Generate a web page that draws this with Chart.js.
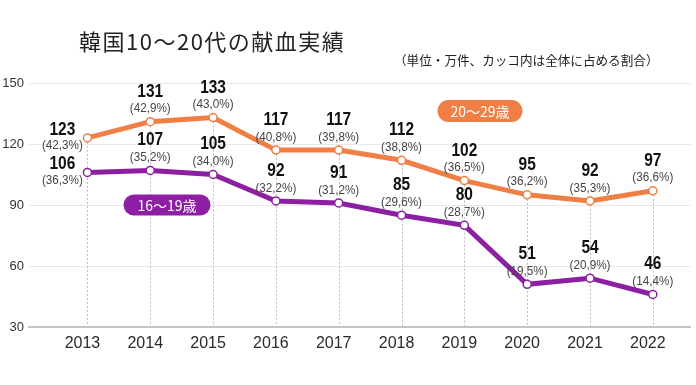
<!DOCTYPE html>
<html>
<head>
<meta charset="utf-8">
<script src="https://cdn.jsdelivr.net/npm/chart.js@4/dist/chart.umd.min.js"></script>
<style>
html,body{margin:0;padding:0;background:#fff;}
#wrap{position:relative;width:696px;height:385px;}
</style>
</head>
<body>
<div id="wrap"><canvas id="c" width="696" height="385"></canvas></div>
<script>
const chartTitle = '韓国10～20代の献血実績';
const chartNote = '（単位・万件、カッコ内は全体に占める割合）';
const years = [2013, 2014, 2015, 2016, 2017, 2018, 2019, 2020, 2021, 2022];
const seriesNames = ['20～29歳', '16～19歳'];
const age20to29 = [123, 131, 133, 117, 117, 112, 102, 95, 92, 97];
const age20to29Share = [42.3, 42.9, 43.0, 40.8, 39.8, 38.8, 36.5, 36.2, 35.3, 36.6];
const age16to19 = [106, 107, 105, 92, 91, 85, 80, 51, 54, 46];
const age16to19Share = [36.3, 35.2, 34.0, 32.2, 31.2, 29.6, 28.7, 19.5, 20.9, 14.4];
const yTicks = [30, 60, 90, 120, 150];

const ORANGE = '#F07F45';
const PURPLE = '#8C1FA2';
const NUM_FONT = '"Liberation Sans", Arial, sans-serif';
const JP_FONT = '"Noto Sans CJK JP", "Noto Sans", sans-serif';

function fmtShare(v){ return '(' + v.toFixed(1).replace('.', ',') + '%)'; }

function squeezedText(ctx, text, x, y, sx){
  ctx.save();
  ctx.translate(x, y);
  ctx.scale(sx, 1);
  ctx.fillText(text, 0, 0);
  ctx.restore();
}

const decorPlugin = {
  id: 'decor',
  beforeDatasetsDraw(chart){
    const ctx = chart.ctx;
    const ys = chart.scales.y;
    const meta = chart.getDatasetMeta(0);
    ctx.save();
    ctx.strokeStyle = '#bdbdbd';
    ctx.lineWidth = 1;
    ctx.setLineDash([2, 2]);
    meta.data.forEach(p => {
      const x = Math.round(p.x) + 0.5;
      ctx.beginPath();
      ctx.moveTo(x, p.y);
      ctx.lineTo(x, ys.bottom);
      ctx.stroke();
    });
    ctx.restore();
  },
  afterDatasetsDraw(chart){
    const ctx = chart.ctx;
    ctx.save();
    const values = [age20to29, age16to19];
    const shares = [age20to29Share, age16to19Share];
    values.forEach((vals, di) => {
      const meta = chart.getDatasetMeta(di);
      meta.data.forEach((p, i) => {
        let cx = p.x, vy = p.y - 30, py = p.y - 13;
        if (i === 0) { cx = p.x - 25; vy = p.y - 8; py = p.y + 8; }
        ctx.textAlign = 'center';
        ctx.textBaseline = 'middle';
        ctx.fillStyle = '#111';
        ctx.font = 'bold 18px ' + NUM_FONT;
        squeezedText(ctx, String(vals[i]), cx, vy, 0.86);
        ctx.fillStyle = '#444';
        ctx.font = '13px ' + NUM_FONT;
        squeezedText(ctx, fmtShare(shares[di][i]), cx, py, 0.9);
      });
    });
    // series pills
    const pills = [
      {text: seriesNames[0], color: ORANGE, x: 480, y: 111, w: 85, h: 22},
      {text: seriesNames[1], color: PURPLE, x: 167, y: 205, w: 87, h: 21}
    ];
    pills.forEach(pl => {
      ctx.fillStyle = pl.color;
      ctx.beginPath();
      ctx.roundRect(pl.x - pl.w/2, pl.y - pl.h/2, pl.w, pl.h, pl.h/2);
      ctx.fill();
      ctx.fillStyle = '#fff';
      ctx.font = '14px ' + JP_FONT;
      ctx.textAlign = 'center';
      ctx.textBaseline = 'middle';
      ctx.fillText(pl.text, pl.x, pl.y + 1);
    });
    ctx.restore();
  },
  afterDraw(chart){
    const ctx = chart.ctx;
    ctx.save();
    ctx.fillStyle = '#222';
    ctx.textAlign = 'left';
    ctx.textBaseline = 'middle';
    ctx.font = '22px ' + JP_FONT;
    ctx.letterSpacing = '1.5px';
    ctx.fillText(chartTitle, 79, 42);
    ctx.letterSpacing = '0px';
    ctx.font = '12.6px ' + JP_FONT;
    ctx.fillText(chartNote, 394, 60);
    ctx.restore();
  }
};

new Chart(document.getElementById('c'), {
  type: 'line',
  data: {
    datasets: [
      {
        label: seriesNames[0],
        data: years.map((y, i) => ({x: y, y: age20to29[i]})),
        borderColor: ORANGE,
        backgroundColor: ORANGE,
        borderWidth: 5,
        pointRadius: 4,
        pointBackgroundColor: '#fff',
        pointBorderColor: ORANGE,
        pointBorderWidth: 1.5,
        tension: 0
      },
      {
        label: seriesNames[1],
        data: years.map((y, i) => ({x: y, y: age16to19[i]})),
        borderColor: PURPLE,
        backgroundColor: PURPLE,
        borderWidth: 5,
        pointRadius: 4,
        pointBackgroundColor: '#fff',
        pointBorderColor: PURPLE,
        pointBorderWidth: 1.5,
        tension: 0
      }
    ]
  },
  options: {
    responsive: false,
    animation: false,
    layout: {padding: {top: 83, right: 0, bottom: 0, left: 0}},
    plugins: {legend: {display: false}, tooltip: {enabled: false}, title: {display: false}},
    scales: {
      x: {
        type: 'linear',
        min: 2012.07,
        max: 2022.6,
        afterBuildTicks(s){ s.ticks = years.map(v => ({value: v})); },
        afterFit(s){ s.height = 58; },
        grid: {display: false, drawTicks: false},
        border: {display: true, color: '#c4c4c4', width: 2},
        ticks: {
          callback: v => String(v),
          color: '#2a2a2a',
          font: {family: NUM_FONT, size: 16},
          padding: 7,
          labelOffset: -5,
          maxRotation: 0,
          autoSkip: false
        }
      },
      y: {
        min: 30,
        max: 150,
        afterBuildTicks(s){ s.ticks = yTicks.map(v => ({value: v})); },
        afterFit(s){ s.width = 29; },
        grid: {color: '#e8e8e8', lineWidth: 1, drawTicks: false},
        border: {display: false},
        ticks: {
          color: '#333',
          font: {family: NUM_FONT, size: 13},
          padding: 5
        }
      }
    }
  },
  plugins: [decorPlugin]
});
</script>
</body>
</html>
